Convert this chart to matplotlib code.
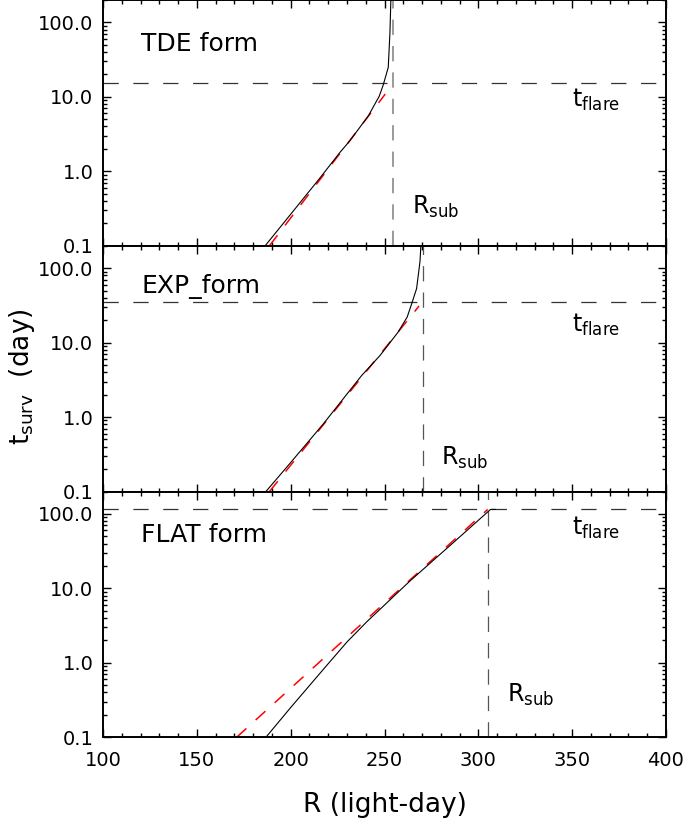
import numpy as np
import matplotlib
matplotlib.use('Agg')
import matplotlib.pyplot as plt
from matplotlib.ticker import FixedLocator, MultipleLocator, LogLocator, NullFormatter

plt.rcParams['font.family'] = 'DejaVu Sans'
plt.rcParams['mathtext.default'] = 'regular'
plt.rcParams['lines.scale_dashes'] = False

# survival time curves (R in light-day, t in day)
tde_R = [186.4, 200, 215.2, 226.3, 231.6, 241.4, 247.2, 249.3, 252.0, 252.9, 253.5]
tde_t = [0.1, 0.265, 0.79, 1.80, 2.58, 5.57, 10.2, 14.4, 24.9, 73.5, 250]
tde_fit_R = [188.7, 250.4]
tde_fit_t = [0.1, 10.9]

exp_R = [186.8, 200, 217.4, 237.8, 247.6, 257.3, 262.1, 264.5, 267.1, 268.9, 269.6]
exp_t = [0.1, 0.245, 0.81, 3.61, 6.71, 13.9, 22.1, 33.4, 53.2, 122, 250]
exp_fit_R = [188.7, 268.4]
exp_fit_t = [0.1, 31]

flat_R = [186.8, 200, 218, 230, 240.5, 263.6, 286, 306.5, 309]
flat_t = [0.1, 0.251, 0.851, 1.905, 3.55, 12.6, 39.8, 115, 115]
flat_fit_R = [171.2, 305]
flat_fit_t = [0.1, 115]

names = ['TDE form', 'EXP_form', 'FLAT form']
t_flare = [15.2, 35, 115]
r_sub = [254.5, 270.3, 305.2]
rsub_col = ['#9a9a9a', '#555555', '#555555']
rsub_lw = [1.4, 0.9, 0.9]

curves = [(tde_R, tde_t, tde_fit_R, tde_fit_t),
          (exp_R, exp_t, exp_fit_R, exp_fit_t),
          (flat_R, flat_t, flat_fit_R, flat_fit_t)]

# text positions
name_y = [0.82, 0.833, 0.824]
flare_y = [0.595, 0.678, 0.852]
rsub_y = [0.33, 0.28, 0.37]

ytick_vals = [0.1, 1.0, 10.0, 100.0]
ytick_labs = ['0.1', '1.0', '10.0', '100.0']

fig = plt.figure(figsize=(6.86, 8.26), dpi=100)
left = 103 / 686
width = (666 - 103) / 686
bottom = 1 - 737.3 / 826
h = (737.3 / 826) / 3

for i in range(3):
    ax = fig.add_axes([left, bottom + (2 - i) * h, width, h])
    R, t, fR, ft = curves[i]
    ax.plot(R, t, color='black', lw=0.8, zorder=3)
    ax.plot(fR, ft, color='red', lw=1.1, dashes=(9.5, 9), zorder=2)
    ax.axhline(t_flare[i], color='#333333', lw=0.9, dashes=(11, 10.5))
    ax.axvline(r_sub[i], color=rsub_col[i], lw=rsub_lw[i], dashes=(11, 8))

    ax.set_yscale('log')
    ax.set_xlim(100, 400)
    ax.set_ylim(0.1, 200)
    ax.yaxis.set_major_locator(FixedLocator(ytick_vals))
    ax.set_yticklabels(ytick_labs)
    ax.yaxis.set_minor_locator(LogLocator(base=10, subs=np.arange(2, 10)))
    ax.yaxis.set_minor_formatter(NullFormatter())
    ax.xaxis.set_major_locator(MultipleLocator(50))
    ax.xaxis.set_minor_locator(MultipleLocator(10))

    ax.tick_params(which='both', direction='in', top=True, right=True, width=1.0)
    ax.tick_params(which='major', length=5.5, labelsize=14)
    ax.tick_params(which='minor', length=3)
    ax.tick_params(axis='y', pad=7)
    ax.tick_params(axis='x', pad=10)
    if i < 2:
        ax.tick_params(axis='x', labelbottom=False)
    for s in ax.spines.values():
        s.set_linewidth(1.4)

    ax.text(0.068, name_y[i], names[i], transform=ax.transAxes,
            fontsize=18, va='center', ha='left')
    ax.text(0.833, flare_y[i], r'$t_{flare}$',
            transform=ax.transAxes, fontsize=17, va='center', ha='left')
    ax.text(r_sub[i] + 10, rsub_y[i], r'$R_{sub}$', fontsize=17, va='center', ha='left')

fig.text(384.5 / 686, 1 - 805 / 826, 'R (light-day)', fontsize=19, ha='center', va='center')
fig.text(22 / 686, 1 - 377 / 826, r'$t_{surv}$  (day)', fontsize=19, ha='center',
         va='center', rotation=90)

fig.savefig('out.png', dpi=100)
